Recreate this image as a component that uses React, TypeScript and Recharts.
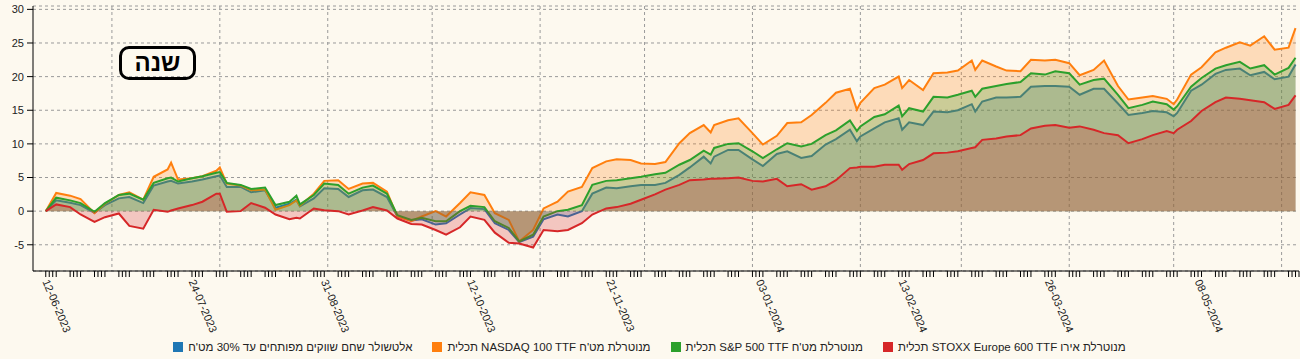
import React from 'react'
import { ComposedChart, Area, XAxis, YAxis, CartesianGrid, Legend } from 'recharts'

const DATES = [
  '2023-06-12', '2023-06-15', '2023-06-19', '2023-06-22', '2023-06-26', '2023-06-29',
  '2023-07-03', '2023-07-06', '2023-07-10', '2023-07-13', '2023-07-17', '2023-07-18',
  '2023-07-20', '2023-07-24', '2023-07-27', '2023-07-31', '2023-08-01', '2023-08-03',
  '2023-08-07', '2023-08-10', '2023-08-14', '2023-08-17', '2023-08-21', '2023-08-23',
  '2023-08-24', '2023-08-28', '2023-08-31', '2023-09-04', '2023-09-07', '2023-09-11',
  '2023-09-14', '2023-09-18', '2023-09-21', '2023-09-25', '2023-09-28', '2023-10-02',
  '2023-10-05', '2023-10-09', '2023-10-12', '2023-10-16', '2023-10-19', '2023-10-23',
  '2023-10-26', '2023-10-30', '2023-11-02', '2023-11-06', '2023-11-09', '2023-11-13',
  '2023-11-16', '2023-11-20', '2023-11-23', '2023-11-27', '2023-11-30', '2023-12-04',
  '2023-12-07', '2023-12-11', '2023-12-14', '2023-12-18', '2023-12-20', '2023-12-21',
  '2023-12-25', '2023-12-28', '2024-01-01', '2024-01-04', '2024-01-08', '2024-01-11',
  '2024-01-15', '2024-01-18', '2024-01-22', '2024-01-25', '2024-01-29', '2024-01-31',
  '2024-02-01', '2024-02-05', '2024-02-08', '2024-02-12', '2024-02-13', '2024-02-15',
  '2024-02-19', '2024-02-22', '2024-02-26', '2024-02-29', '2024-03-04', '2024-03-05',
  '2024-03-07', '2024-03-11', '2024-03-14', '2024-03-18', '2024-03-21', '2024-03-25',
  '2024-03-28', '2024-04-01', '2024-04-04', '2024-04-08', '2024-04-11', '2024-04-15',
  '2024-04-18', '2024-04-22', '2024-04-25', '2024-04-29', '2024-05-01', '2024-05-02',
  '2024-05-06', '2024-05-09', '2024-05-13', '2024-05-16', '2024-05-20', '2024-05-23',
  '2024-05-27', '2024-05-30', '2024-06-03', '2024-06-05',
]

// אלטשולר שחם שווקים מפותחים
const ALTSHULER = [
  0, 1.6, 1.25, 0.9, -0.25, 0.9, 1.9, 2.1, 1.2, 3.8, 4.4, 4.5,
  4.1, 4.4, 4.7, 5.2, 5.3, 3.6, 3.6, 2.8, 3.1, 0.5, 1.1, 1.7,
  0.7, 1.9, 3.4, 3.3, 2.1, 3.1, 3.2, 2.1, -0.8, -1.4, -1.2, -2.0,
  -1.8, -0.5, 0.45, 0.3, -1.8, -2.8, -4.6, -3.8, -1.2, -0.5, -0.8, 0.0,
  2.6, 3.5, 3.4, 3.7, 3.9, 3.9, 4.2, 5.4, 6.5, 8.1, 7.1, 8.1,
  9.1, 9.1, 7.7, 6.7, 8.5, 8.9, 7.9, 8.2, 9.9, 10.7, 12.1, 10.4,
  11.1, 12.3, 13.2, 13.8, 12.1, 13.2, 12.8, 14.8, 14.7, 15.0, 15.9, 14.8,
  16.3, 16.9, 16.9, 17.0, 18.5, 18.6, 18.6, 18.5, 17.3, 18.2, 18.2, 16.0,
  14.3, 14.6, 14.9, 14.7, 14.1, 14.6, 17.9, 18.8, 20.4, 21.0, 21.2, 20.2,
  20.7, 19.6, 20.0, 21.8,
]

// תכלית NASDAQ 100
const NASDAQ = [
  0, 2.7, 2.3, 1.8, -0.3, 1.1, 2.4, 2.8, 1.7, 5.1, 6.2, 7.2,
  4.7, 4.9, 5.2, 6.0, 6.5, 4.1, 3.8, 3.1, 3.2, 0.2, 0.9, 1.6,
  0.8, 2.6, 4.5, 4.6, 3.3, 4.1, 4.2, 2.9, -0.8, -1.5, -0.8, 0.0,
  -0.8, 1.2, 2.8, 2.4, -0.3, -1.3, -4.5, -2.8, 0.4, 1.4, 2.9, 3.6,
  6.4, 7.4, 7.7, 7.6, 7.1, 7.0, 7.3, 10.1, 11.6, 12.8, 11.7, 12.8,
  13.5, 13.8, 11.6, 9.9, 11.2, 13.1, 13.2, 14.3, 16.1, 17.6, 18.2, 15.1,
  16.1, 18.3, 18.8, 20.0, 18.3, 19.5, 18.0, 20.5, 20.6, 20.9, 22.4, 21.0,
  22.4, 21.5, 20.9, 20.8, 22.5, 22.4, 22.5, 22.0, 20.2, 21.0, 22.4, 18.6,
  16.6, 16.9, 17.1, 16.7, 15.9, 16.6, 20.3, 21.4, 23.6, 24.3, 25.1, 24.6,
  26.0, 24.0, 24.3, 27.2,
]

// תכלית S&P 500
const SP500 = [
  0, 2.0, 1.6, 1.2, -0.1, 1.2, 2.4, 2.6, 1.7, 4.2, 4.9, 5.0,
  4.4, 4.9, 5.2, 5.7, 5.8, 4.2, 3.9, 3.3, 3.5, 0.9, 1.4, 2.3,
  1.0, 2.4, 4.1, 3.9, 2.6, 3.5, 3.8, 2.6, -0.6, -1.3, -1.0, -1.5,
  -1.5, 0.0, 0.8, 0.6, -1.5, -2.5, -4.5, -3.5, -0.8, 0.0, 0.2, 0.9,
  3.9, 4.5, 4.6, 4.9, 5.1, 5.5, 5.7, 6.9, 7.6, 9.0, 8.4, 9.4,
  10.0, 10.1, 8.9, 7.9, 9.2, 10.1, 9.6, 10.0, 11.3, 12.0, 13.5, 11.9,
  12.6, 14.0, 14.4, 15.7, 14.1, 15.3, 14.8, 17.0, 16.9, 17.3, 17.9, 17.0,
  18.2, 18.6, 18.9, 19.2, 20.5, 20.3, 20.8, 20.5, 18.8, 19.5, 19.7, 17.3,
  15.3, 15.8, 16.3, 15.9, 15.1, 15.6, 18.5, 19.8, 21.2, 21.7, 22.2, 21.2,
  21.7, 20.3, 21.3, 22.8,
]

// תכלית STOXX Europe 600
const STOXX = [
  0, 1.0, 0.6, -0.5, -1.6, -0.9, -0.35, -2.2, -2.6, 0.2, -0.1, 0.1,
  0.4, 0.9, 1.4, 2.6, 2.6, -0.1, 0.0, 1.2, 0.5, -0.5, -1.2, -1.0,
  -1.1, 0.4, 0.15, 0.0, -0.5, 0.1, 0.6, 0.1, -1.1, -1.9, -2.0, -2.8,
  -3.5, -2.4, -0.8, -1.3, -3.2, -4.7, -4.8, -5.4, -2.8, -3.0, -2.8, -1.8,
  -0.5, 0.4, 0.6, 1.1, 1.7, 2.5, 3.2, 3.9, 4.6, 4.7, 4.8, 4.8,
  4.9, 5.0, 4.5, 4.4, 4.8, 3.7, 4.0, 3.2, 3.7, 4.6, 6.4, 6.5,
  6.6, 6.6, 6.9, 6.9, 6.15, 7.0, 7.6, 8.6, 8.7, 8.9, 9.4, 9.5,
  10.6, 10.8, 11.1, 11.3, 12.3, 12.7, 12.8, 12.4, 12.6, 12.1, 11.6, 11.3,
  10.1, 10.7, 11.3, 11.9, 11.6, 12.1, 13.4, 14.9, 16.2, 16.9, 16.7, 16.5,
  16.2, 15.2, 15.8, 17.2,
]

const LABEL_DATES = [
  '2023-06-12', '2023-07-24', '2023-08-31', '2023-10-12', '2023-11-21',
  '2024-01-03', '2024-02-13', '2024-03-26', '2024-05-08',
]

const MONTH_LINES = [
  '2023-07-01', '2023-08-01', '2023-09-01', '2023-10-01', '2023-11-01', '2023-12-01',
  '2024-01-01', '2024-02-01', '2024-03-01', '2024-04-01', '2024-05-01', '2024-06-01',
]

const Y_TICKS = [-5, 0, 5, 10, 15, 20, 25, 30]

const SERIES = [
  { key: 'alt', name: "אלטשולר שחם שווקים מפותחים עד 30% מט'ח", color: '#1f77b4', values: ALTSHULER },
  { key: 'ndx', name: "תכלית NASDAQ 100 TTF מנוטרלת מט'ח", color: '#ff7f0e', values: NASDAQ },
  { key: 'spx', name: "תכלית S&P 500 TTF מנוטרלת מט'ח", color: '#2ca02c', values: SP500 },
  { key: 'sxx', name: 'תכלית STOXX Europe 600 TTF מנוטרלת אירו', color: '#d62728', values: STOXX },
]

const DAY = 86400000
const X0 = Date.parse('2023-06-08T08:00:00Z')
const X1 = Date.parse('2024-06-06T00:00:00Z')

const data = DATES.map((d, i) => {
  const row: Record<string, number> = { t: Date.parse(d) }
  SERIES.forEach(s => { row[s.key] = s.values[i] })
  return row
})

// small tick for every Mon-Thu trading day
const dayTicks: number[] = []
for (let t = Date.parse('2023-06-12'); t <= Date.parse('2024-06-06'); t += DAY) {
  const wd = new Date(t).getUTCDay()
  if (wd >= 1 && wd <= 4) dayTicks.push(t)
}
const labelSet = new Set(LABEL_DATES.map(d => Date.parse(d)))
const monthTs = MONTH_LINES.map(d => Date.parse(d))

const fmt = (t: number) => {
  const d = new Date(t)
  const p = (n: number) => String(n).padStart(2, '0')
  return `${p(d.getUTCDate())}-${p(d.getUTCMonth() + 1)}-${d.getUTCFullYear()}`
}

const FONT = 'Arial, "Liberation Sans", sans-serif'

function DateTick(props: any) {
  const { x, y, payload } = props
  if (!labelSet.has(payload.value)) return <g />
  return (
    <text
      x={x}
      y={y}
      dy="0.35em"
      transform={`rotate(67, ${x}, ${y})`}
      textAnchor="start"
      fontSize={11}
      fontFamily={FONT}
      fill="#222"
    >
      {fmt(payload.value)}
    </text>
  )
}

function LegendBox() {
  return (
    <div style={{ display: 'flex', justifyContent: 'center', alignItems: 'center', height: 24, fontFamily: FONT, fontSize: 11.5, color: '#222' }}>
      {SERIES.map(s => (
        <span key={s.key} style={{ display: 'flex', alignItems: 'center', margin: '0 10px' }}>
          <span style={{ width: 10, height: 10, background: s.color, marginRight: 5, display: 'inline-block' }} />
          <span>{s.name}</span>
        </span>
      ))}
    </div>
  )
}

export default function App() {
  return (
    <div style={{ position: 'absolute', left: 0, top: 0, width: 1300, height: 359, background: '#fdf9ef', overflow: 'hidden' }}>
      <ComposedChart width={1300} height={359} data={data} margin={{ top: 6, right: 1, bottom: 0, left: 0 }}>
        <CartesianGrid
          stroke="#9a9a9a"
          strokeDasharray="3 3"
          verticalCoordinatesGenerator={({ offset }: any) =>
            monthTs.map(m => offset.left + ((m - X0) / (X1 - X0)) * offset.width)
          }
        />
        <XAxis
          dataKey="t"
          type="number"
          domain={[X0, X1]}
          allowDataOverflow
          ticks={dayTicks}
          interval={0}
          tick={<DateTick />}
          tickSize={6}
          tickMargin={3}
          height={64}
          axisLine={{ stroke: '#000' }}
          tickLine={{ stroke: '#000' }}
        />
        <YAxis
          type="number"
          domain={[-8.9, 30.5]}
          allowDataOverflow
          ticks={Y_TICKS}
          interval={0}
          width={33}
          tickSize={6}
          tickMargin={3}
          axisLine={{ stroke: '#000' }}
          tickLine={{ stroke: '#000' }}
          tick={{ fontSize: 11, fontFamily: FONT, fill: '#222' }}
        />
        {SERIES.map(s => (
          <Area
            key={s.key}
            type="linear"
            dataKey={s.key}
            name={s.name}
            stroke={s.color}
            strokeWidth={2}
            fill={s.color}
            fillOpacity={0.24}
            baseValue={0}
            dot={false}
            activeDot={false}
            isAnimationActive={false}
          />
        ))}
        <Legend verticalAlign="bottom" height={24} content={<LegendBox />} />
      </ComposedChart>
      <div
        style={{
          position: 'absolute', left: 119, top: 46, width: 71, height: 28,
          border: '3px solid #000', borderRadius: 10, fontFamily: FONT,
          fontWeight: 'bold', fontSize: 24, lineHeight: '28px', textAlign: 'center', color: '#000',
        }}
      >
        שנה
      </div>
    </div>
  )
}
